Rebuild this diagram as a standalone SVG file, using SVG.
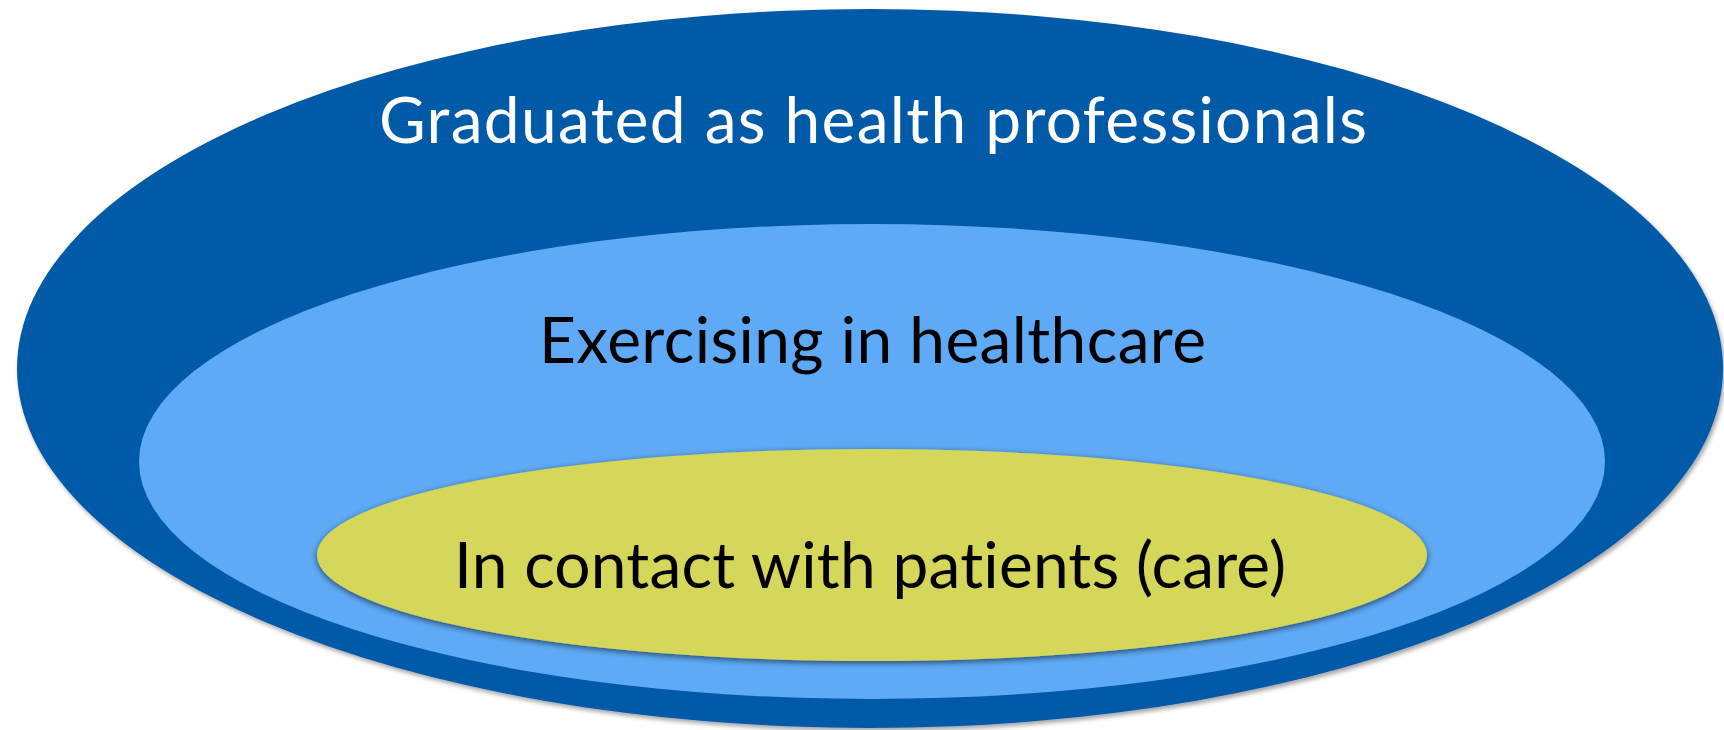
<svg xmlns="http://www.w3.org/2000/svg" width="1724" height="730" viewBox="0 0 1724 730">
  <defs>
    <filter id="shadowOuter" x="-5%" y="-5%" width="110%" height="115%">
      <feDropShadow dx="2" dy="3" stdDeviation="2" flood-color="#000" flood-opacity="0.35"/>
    </filter>
    <filter id="shadowInner" x="-5%" y="-10%" width="110%" height="125%">
      <feDropShadow dx="0" dy="2" stdDeviation="3" flood-color="#000" flood-opacity="0.6"/>
    </filter>
  </defs>
  <style>
    .lbl { font-family: "Lato", "Liberation Sans", "DejaVu Sans", sans-serif; font-size: 64px; text-anchor: middle; font-variant-ligatures: none; }
    .white { fill: #ffffff; }
    .black { fill: #000000; }
  </style>
  <rect width="1724" height="730" fill="#ffffff"/>
  <g id="outer">
    <ellipse cx="870" cy="368.5" rx="853" ry="359.5" fill="#005AA7" filter="url(#shadowOuter)"/>
    <text class="lbl white" x="873" y="143" textLength="988" lengthAdjust="spacing">Graduated as health professionals</text>
  </g>
  <g id="middle">
    <ellipse cx="872" cy="461.5" rx="733" ry="237.5" fill="#5FAAF6"/>
    <text class="lbl black" x="872.5" y="363" textLength="667" lengthAdjust="spacing">Exercising in healthcare</text>
  </g>
  <g id="inner">
    <ellipse cx="872" cy="555" rx="555" ry="106" fill="#D5D75A" filter="url(#shadowInner)"/>
    <text class="lbl black" x="870" y="588" textLength="832" lengthAdjust="spacing">In contact with patients (care)</text>
  </g>
  <g id="connectors"/>
</svg>
